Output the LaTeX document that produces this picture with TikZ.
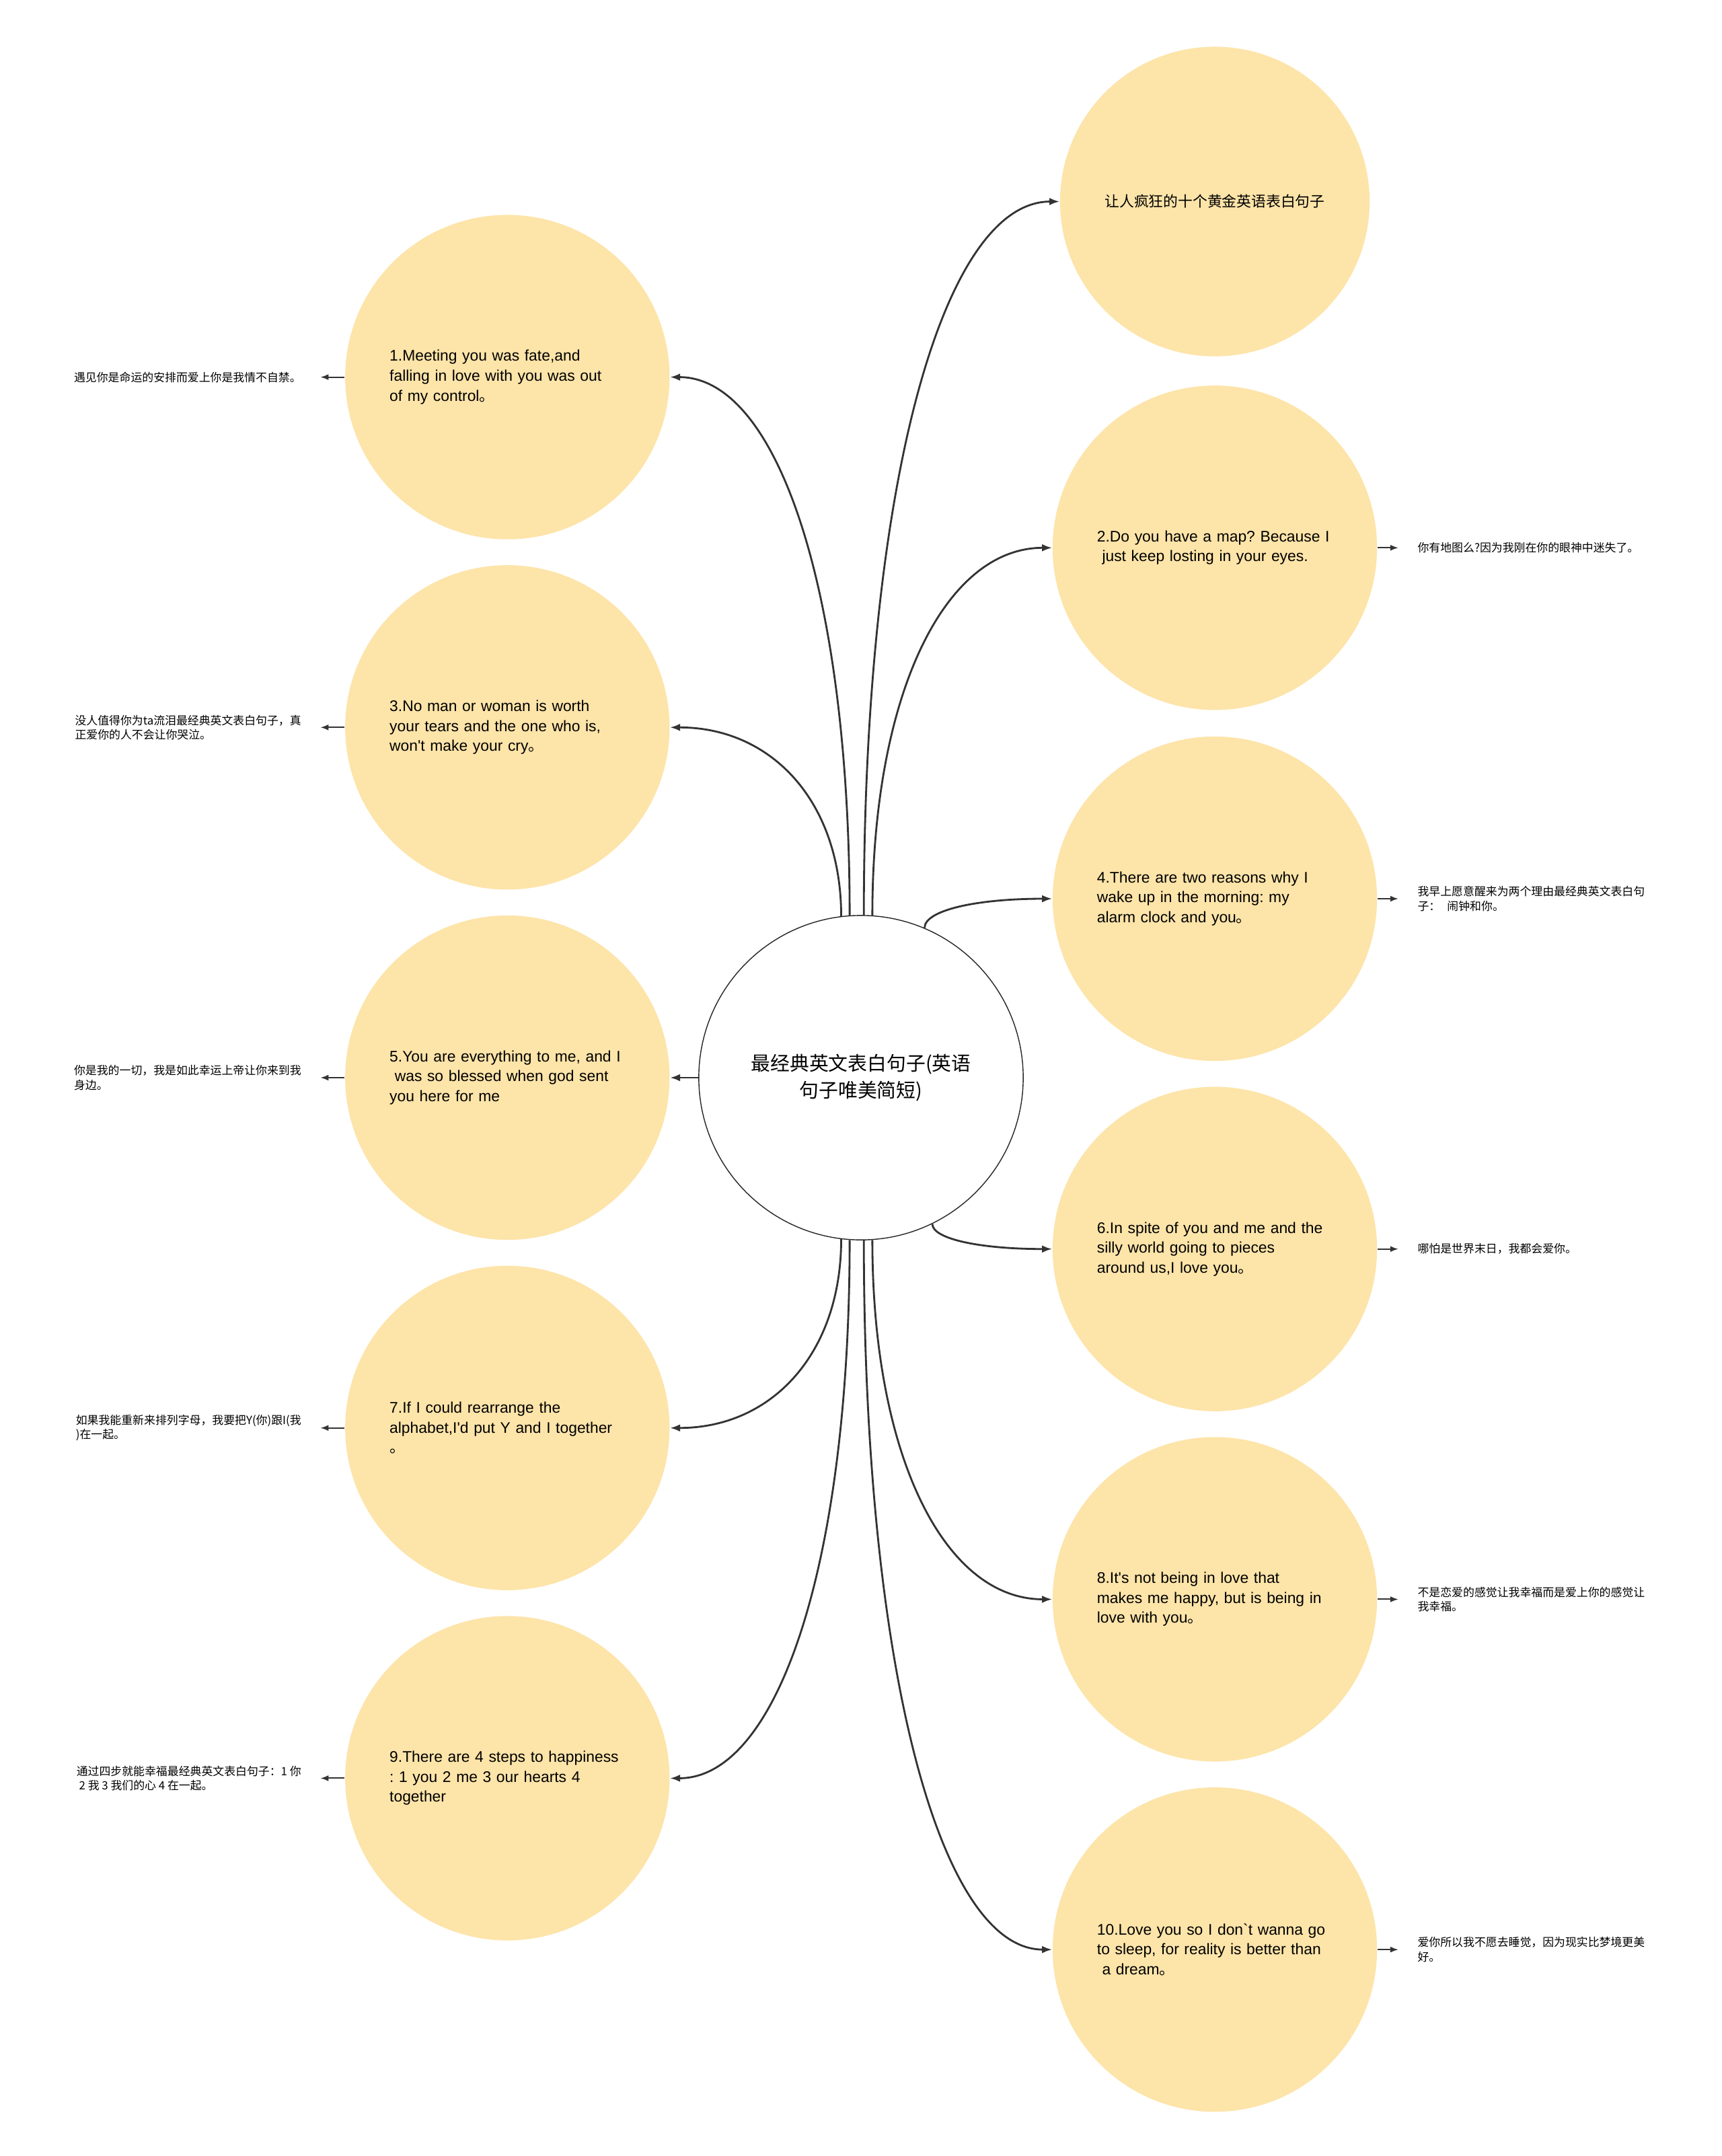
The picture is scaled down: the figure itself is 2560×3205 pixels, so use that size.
\documentclass[tikz,border=0pt]{standalone}
\usepackage{fontspec}
\newfontfamily\latin{Liberation Sans}
\newfontfamily\cjk{Noto Sans CJK SC}
\usetikzlibrary{positioning, calc, arrows.meta}
\frenchspacing

\definecolor{ideafill}{HTML}{FDE4A9}
\definecolor{ink}{HTML}{333333}

\begin{document}
\begin{tikzpicture}[x=0.01cm, y=-0.01cm]
    % Define styles
    \tikzstyle{root} = [circle, draw=black!85, line width=0.4pt, fill=white, minimum size=4.82cm, align=center, font=\cjk\fontsize{8.2}{11.6}\selectfont]
    \tikzstyle{idea} = [circle, fill=ideafill, minimum size=4.82cm, inner sep=0pt, text width=3.5cm, align=left, font=\latin\fontsize{6.5}{8.4}\selectfont]
    \tikzstyle{note} = [inner xsep=0.28cm, inner ysep=1pt, align=left, font=\cjk\fontsize{4.8}{6.1}\selectfont]
    \tikzstyle{arrow} = [-{Latex[length=0.12cm, width=0.09cm]}, line width=0.55pt, draw=ink]
    \tikzstyle{branch} = [-{Latex[length=0.15cm, width=0.11cm]}, line width=0.8pt, draw=ink,
        to path={.. controls ($(\tikztostart)!0.6!(\tikztostart|-\tikztotarget)$) and ($(\tikztotarget)!0.6!(\tikztostart|-\tikztotarget)$) .. (\tikztotarget) \tikztonodes}]

    \useasboundingbox (0,0) rectangle (2560,3205);

    % Nodes
    \node[root] (root) at (1280,1602) {最经典英文表白句子(英语\\句子唯美简短)};

    % left side
    \node[idea, left=0.42cm of root] (q5) {5.You are everything to me, and I\\\ was so blessed when god sent\\you here for me};
    \node[idea, above=0.37cm of q5] (q3) {3.No man or woman is worth\\your tears and the one who is,\\won't make your cry{\cjk 。}};
    \node[idea, above=0.37cm of q3] (q1) {1.Meeting you was fate,and\\falling in love with you was out\\of my control{\cjk 。}};
    \node[idea, below=0.37cm of q5] (q7) {7.If I could rearrange the\\alphabet,I'd put Y and I together\\{\cjk 。}};
    \node[idea, below=0.37cm of q7] (q9) {9.There are 4 steps to happiness\\: 1 you 2 me 3 our hearts 4\\together};

    % right side
    \node[idea] (q4) at (1806,1336) {4.There are two reasons why I\\wake up in the morning: my\\alarm clock and you{\cjk 。}};
    \node[idea, above=0.38cm of q4] (q2) {2.Do you have a map? Because I\\\ just keep losting in your eyes.};
    \node[idea, above=0.42cm of q2, minimum size=4.6cm, align=center, font=\cjk\fontsize{6.2}{8}\selectfont] (t) {让人疯狂的十个黄金英语表白句子};
    \node[idea, below=0.37cm of q4] (q6) {6.In spite of you and me and the\\silly world going to pieces\\around us,I love you{\cjk 。}};
    \node[idea, below=0.37cm of q6] (q8) {8.It's not being in love that\\makes me happy, but is being in\\love with you{\cjk 。}};
    \node[idea, below=0.37cm of q8] (q10) {10.Love you so I don`t wanna go\\to sleep, for reality is better than\\\ a dream{\cjk 。}};

    % notes
    \node[note, left=0.36cm of q1] (n1) {遇见你是命运的安排而爱上你是我情不自禁。};
    \node[note, left=0.36cm of q3] (n3) {没人值得你为ta流泪最经典英文表白句子，真\\正爱你的人不会让你哭泣。};
    \node[note, left=0.36cm of q5] (n5) {你是我的一切，我是如此幸运上帝让你来到我\\身边。};
    \node[note, left=0.36cm of q7] (n7) {如果我能重新来排列字母，我要把Y(你)跟I(我\\)在一起。};
    \node[note, left=0.36cm of q9] (n9) {通过四步就能幸福最经典英文表白句子：1 你\\\ 2 我 3 我们的心 4 在一起。};
    \node[note, right=0.31cm of q2] (n2) {你有地图么?因为我刚在你的眼神中迷失了。};
    \node[note, right=0.31cm of q4] (n4) {我早上愿意醒来为两个理由最经典英文表白句\\子：\hspace{0.6em}闹钟和你。};
    \node[note, right=0.31cm of q6] (n6) {哪怕是世界末日，我都会爱你。};
    \node[note, right=0.31cm of q8] (n8) {不是恋爱的感觉让我幸福而是爱上你的感觉让\\我幸福。};
    \node[note, right=0.31cm of q10] (n10) {爱你所以我不愿去睡觉，因为现实比梦境更美\\好。};

    % Connections
    \draw[branch] (root.94) to (q1.east);
    \draw[branch] (root.97) to (q3.east);
    \draw[branch] (root.west) to (q5.east);
    \draw[branch] (root.263) to (q7.east);
    \draw[branch] (root.266) to (q9.east);
    \draw[branch] (root.89) to (t.west);
    \draw[branch] (root.86) to (q2.west);
    \draw[branch] (root.67) to (q4.west);
    \draw[branch] (root.296) to (q6.west);
    \draw[branch] (root.274) to (q8.west);
    \draw[branch] (root.271) to (q10.west);

    \draw[arrow] (q1) -- (n1);
    \draw[arrow] (q3) -- (n3);
    \draw[arrow] (q5) -- (n5);
    \draw[arrow] (q7) -- (n7);
    \draw[arrow] (q9) -- (n9);
    \draw[arrow] (q2) -- (n2);
    \draw[arrow] (q4) -- (n4);
    \draw[arrow] (q6) -- (n6);
    \draw[arrow] (q8) -- (n8);
    \draw[arrow] (q10) -- (n10);
\end{tikzpicture}
\end{document}
